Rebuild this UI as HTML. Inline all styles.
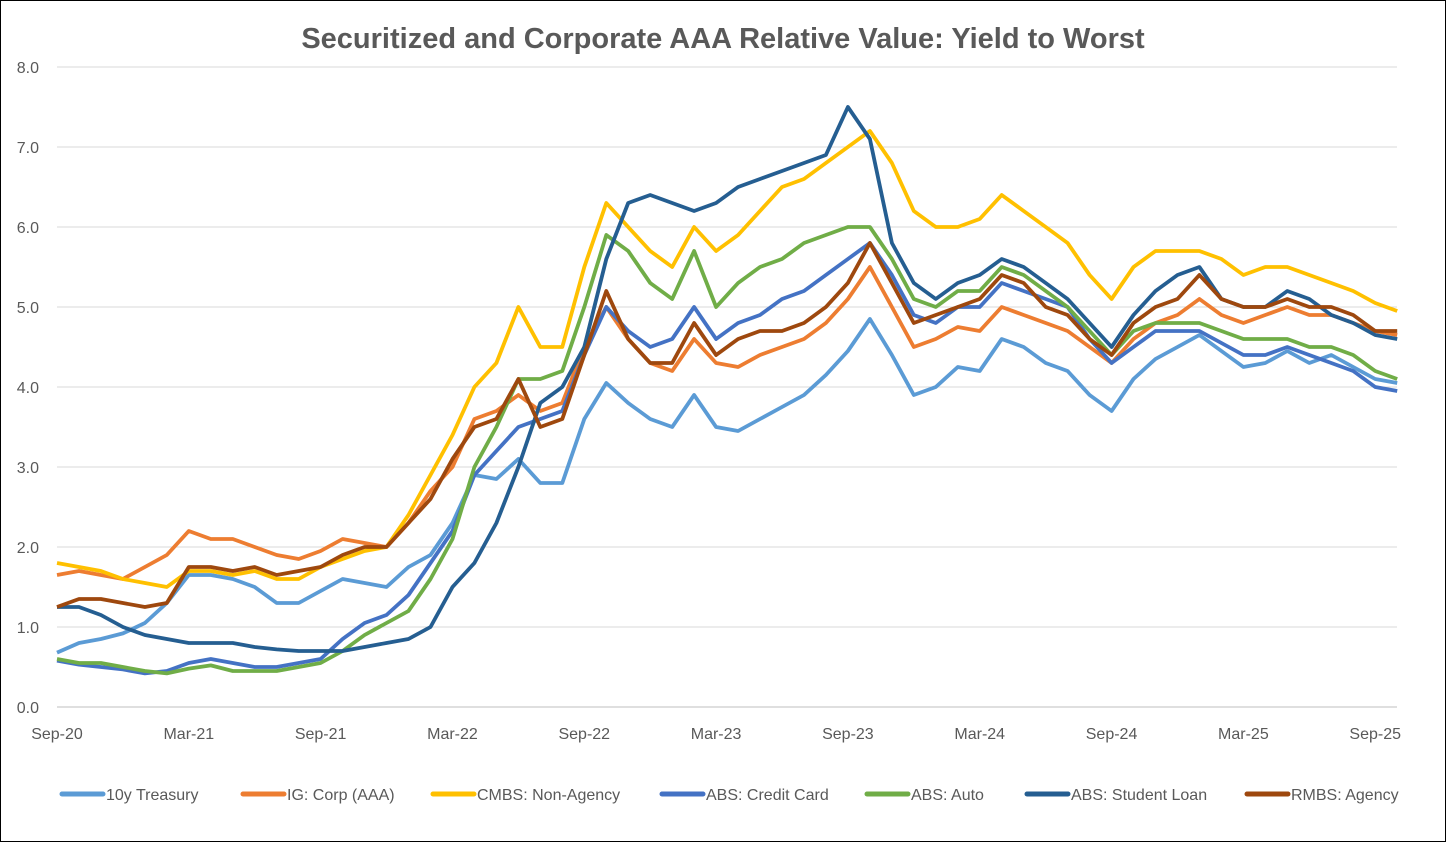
<!DOCTYPE html>
<html><head><meta charset="utf-8"><style>
html,body{margin:0;padding:0;background:#fff}
#wrap{position:relative;width:1444px;height:840px;border:1px solid #000;background:#fff;overflow:hidden}
svg text{font-family:"Liberation Sans",sans-serif}
</style></head><body>
<div id="wrap">
<svg id="chart" width="1444" height="840"></svg>
</div>
<script>
const categories=["Sep-20","Mar-21","Sep-21","Mar-22","Sep-22","Mar-23","Sep-23","Mar-24","Sep-24","Mar-25","Sep-25"];
const yTicks=[0,1,2,3,4,5,6,7,8];
const seriesNames=["10y Treasury","IG: Corp (AAA)","CMBS: Non-Agency","ABS: Credit Card","ABS: Auto","ABS: Student Loan","RMBS: Agency"];
const seriesColors=["#5B9BD5","#ED7D31","#FFC000","#4472C4","#70AD47","#255E91","#9E480E"];
const treasury=[0.68,0.8,0.85,0.92,1.05,1.3,1.65,1.65,1.6,1.5,1.3,1.3,1.45,1.6,1.55,1.5,1.75,1.9,2.3,2.9,2.85,3.1,2.8,2.8,3.6,4.05,3.8,3.6,3.5,3.9,3.5,3.45,3.6,3.75,3.9,4.15,4.45,4.85,4.4,3.9,4.0,4.25,4.2,4.6,4.5,4.3,4.2,3.9,3.7,4.1,4.35,4.5,4.65,4.45,4.25,4.3,4.45,4.3,4.4,4.25,4.1,4.05];
const igCorp=[1.65,1.7,1.65,1.6,1.75,1.9,2.2,2.1,2.1,2.0,1.9,1.85,1.95,2.1,2.05,2.0,2.3,2.7,3.0,3.6,3.7,3.9,3.7,3.8,4.5,5.0,4.6,4.3,4.2,4.6,4.3,4.25,4.4,4.5,4.6,4.8,5.1,5.5,5.0,4.5,4.6,4.75,4.7,5.0,4.9,4.8,4.7,4.5,4.3,4.6,4.8,4.9,5.1,4.9,4.8,4.9,5.0,4.9,4.9,4.8,4.7,4.65];
const cmbs=[1.8,1.75,1.7,1.6,1.55,1.5,1.7,1.7,1.65,1.7,1.6,1.6,1.75,1.85,1.95,2.0,2.4,2.9,3.4,4.0,4.3,5.0,4.5,4.5,5.5,6.3,6.0,5.7,5.5,6.0,5.7,5.9,6.2,6.5,6.6,6.8,7.0,7.2,6.8,6.2,6.0,6.0,6.1,6.4,6.2,6.0,5.8,5.4,5.1,5.5,5.7,5.7,5.7,5.6,5.4,5.5,5.5,5.4,5.3,5.2,5.05,4.95];
const creditCard=[0.58,0.53,0.5,0.47,0.42,0.45,0.55,0.6,0.55,0.5,0.5,0.55,0.6,0.85,1.05,1.15,1.4,1.8,2.2,2.9,3.2,3.5,3.6,3.7,4.4,5.0,4.7,4.5,4.6,5.0,4.6,4.8,4.9,5.1,5.2,5.4,5.6,5.8,5.4,4.9,4.8,5.0,5.0,5.3,5.2,5.1,5.0,4.6,4.3,4.5,4.7,4.7,4.7,4.55,4.4,4.4,4.5,4.4,4.3,4.2,4.0,3.95];
const auto=[0.6,0.55,0.55,0.5,0.45,0.42,0.48,0.52,0.45,0.45,0.45,0.5,0.55,0.7,0.9,1.05,1.2,1.6,2.1,3.0,3.5,4.1,4.1,4.2,5.0,5.9,5.7,5.3,5.1,5.7,5.0,5.3,5.5,5.6,5.8,5.9,6.0,6.0,5.6,5.1,5.0,5.2,5.2,5.5,5.4,5.2,5.0,4.7,4.4,4.7,4.8,4.8,4.8,4.7,4.6,4.6,4.6,4.5,4.5,4.4,4.2,4.1];
const studentLoan=[1.25,1.25,1.15,1.0,0.9,0.85,0.8,0.8,0.8,0.75,0.72,0.7,0.7,0.7,0.75,0.8,0.85,1.0,1.5,1.8,2.3,3.0,3.8,4.0,4.5,5.6,6.3,6.4,6.3,6.2,6.3,6.5,6.6,6.7,6.8,6.9,7.5,7.1,5.8,5.3,5.1,5.3,5.4,5.6,5.5,5.3,5.1,4.8,4.5,4.9,5.2,5.4,5.5,5.1,5.0,5.0,5.2,5.1,4.9,4.8,4.65,4.6];
const rmbs=[1.25,1.35,1.35,1.3,1.25,1.3,1.75,1.75,1.7,1.75,1.65,1.7,1.75,1.9,2.0,2.0,2.3,2.6,3.1,3.5,3.6,4.1,3.5,3.6,4.4,5.2,4.6,4.3,4.3,4.8,4.4,4.6,4.7,4.7,4.8,5.0,5.3,5.8,5.3,4.8,4.9,5.0,5.1,5.4,5.3,5.0,4.9,4.6,4.4,4.8,5.0,5.1,5.4,5.1,5.0,5.0,5.1,5.0,5.0,4.9,4.7,4.7];
const seriesData=[treasury,igCorp,cmbs,creditCard,auto,studentLoan,rmbs];

const NS="http://www.w3.org/2000/svg";
const svg=document.getElementById('chart');
const L=56,R=1396,T=66,B=706;
const x0=56,xPerMonth=21.97;
function xs(i){return x0+i*xPerMonth;}
function ys(v){return B-(v/8)*(B-T);}
function mk(tag,attrs,parent){const e=document.createElementNS(NS,tag);for(const k in attrs)e.setAttribute(k,attrs[k]);(parent||svg).appendChild(e);return e;}

const title=mk('text',{x:722,y:47,'text-anchor':'middle','font-size':'29','font-weight':'bold',fill:'#595959'});
title.textContent="Securitized and Corporate AAA Relative Value: Yield to Worst";



yTicks.forEach(v=>{
  const g=mk('line',{x1:L,x2:R,y1:ys(v),y2:ys(v),stroke:v===0?'#bfbfbf':'#d9d9d9','stroke-width':1});
  
  
  const t=mk('text',{x:38,y:ys(v)+6,'text-anchor':'end','font-size':'16',fill:'#595959'});
  t.textContent=v.toFixed(1);
  
  
});
categories.forEach((c,k)=>{
  const t=mk('text',{x:xs(k*6),y:738,'text-anchor':'middle','font-size':'16',fill:'#595959'});
  t.textContent=c;
  
  
});
seriesData.forEach((arr,s)=>{
  const d=arr.map((v,i)=>(i?'L':'M')+xs(i).toFixed(1)+' '+ys(v).toFixed(1)).join(' ');
  const p=mk('path',{d:d,fill:'none',stroke:seriesColors[s],'stroke-width':3.8,'stroke-linejoin':'round'});
  
  
});
const legendX=[59,240,430,659,864,1024,1244];
seriesNames.forEach((n,s)=>{
  const g=mk('g',{});
  
  
  mk('line',{x1:legendX[s]+2,x2:legendX[s]+43,y1:793,y2:793,stroke:seriesColors[s],'stroke-width':5,'stroke-linecap':'round'},g);
  const t=mk('text',{x:legendX[s]+46,y:799,'font-size':'16',fill:'#595959'},g);
  t.textContent=n;
});
</script>
</body></html>
